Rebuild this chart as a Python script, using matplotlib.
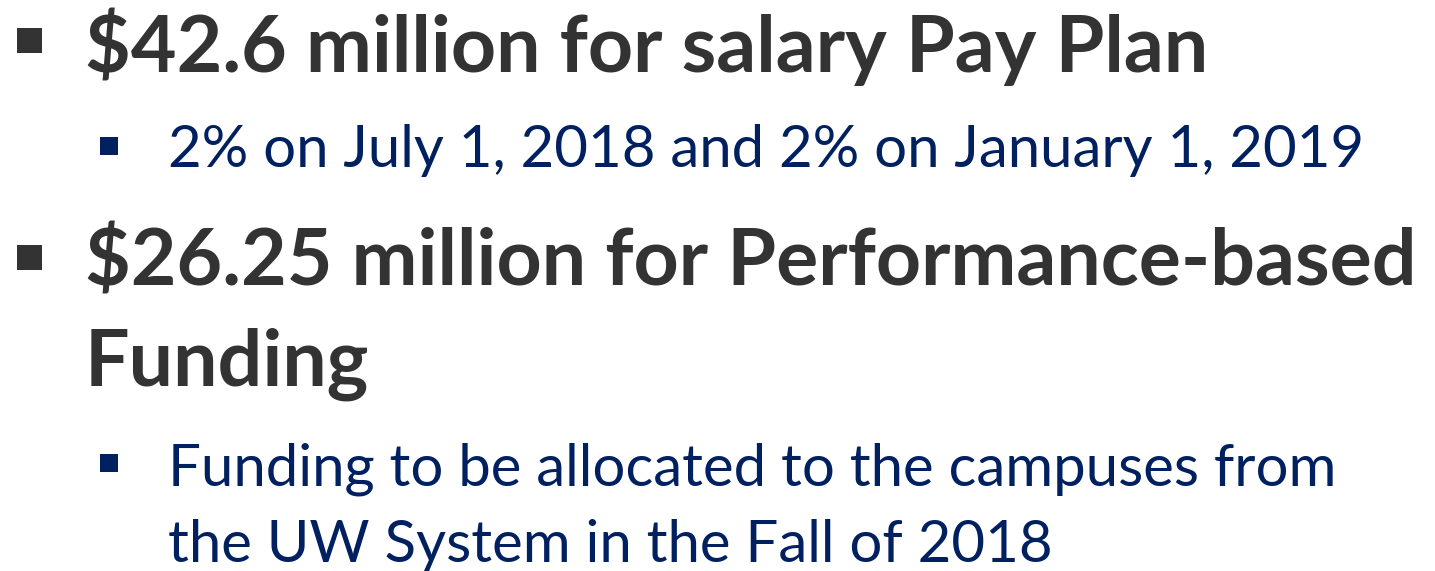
import matplotlib
matplotlib.use("Agg")
import matplotlib.pyplot as plt
from matplotlib.patches import Rectangle

W, H = 1435, 571
level1_lines = ["$42.6 million for salary Pay Plan", "$26.25 million for Performance-based", "Funding"]
level2_lines = ["2% on July 1, 2018 and 2% on January 1, 2019",
                "Funding to be allocated to the campuses from",
                "the UW System in the Fall of 2018"]

dark = "#333333"
navy = "#002060"
FONT = "Lato"

fig = plt.figure(figsize=(W/100, H/100), dpi=100)
fig.patch.set_facecolor("white")

def px(x, y):
    return x / W, 1 - y / H

# (text, x_left, baseline_y, bold, color, target_right)
items = [
    (level1_lines[0], 85, 72, True, dark, 1209),
    (level2_lines[0], 168, 167, False, navy, 1350),
    (level1_lines[1], 85, 286, True, dark, 1415),
    (level1_lines[2], 85, 386, True, dark, None),
    (level2_lines[1], 168, 485, False, navy, 1352),
    (level2_lines[2], 168, 562, False, navy, None),
]

renderer = fig.canvas.get_renderer()
sizes = {}
texts = []
for s, x, y, bold, col, right in items:
    t = fig.text(*px(x, y), s, fontsize=40, fontfamily=FONT,
                 fontweight="bold" if bold else "normal", color=col,
                 ha="left", va="baseline")
    texts.append((t, bold, right))

# fit font size per level to the measured widths
for t, bold, right in texts:
    if right is not None:
        w = t.get_window_extent(renderer).width
        fs = 40 * (right - t.get_window_extent(renderer).x0) / w
        sizes.setdefault(bold, []).append(fs)
for t, bold, right in texts:
    t.set_fontsize(sum(sizes[bold]) / len(sizes[bold]))

# bullets
for (x0, y0, sz, col) in [(17, 28, 25, dark), (100, 137, 18, navy),
                          (17, 245, 25, dark), (100, 454, 18, navy)]:
    fig.patches.append(Rectangle(px(x0, y0 + sz), sz / W, sz / H,
                                 transform=fig.transFigure, color=col, lw=0))

fig.savefig("out.png", dpi=100, facecolor="white")
